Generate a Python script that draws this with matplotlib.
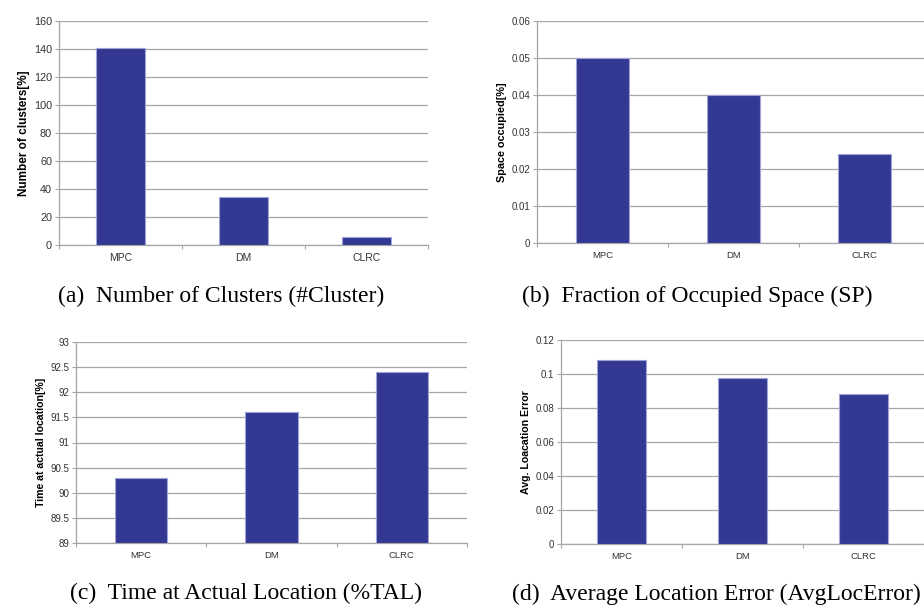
import matplotlib.pyplot as plt
from matplotlib.ticker import FixedLocator

W, H = 924, 605

methods = ['MPC', 'DM', 'CLRC']
clusters = [141, 34, 6]
space = [0.05, 0.04, 0.024]
tal = [90.3, 91.6, 92.4]
loc_err = [0.108, 0.0975, 0.088]

bar_col = '#333993'
edge_col = '#9fa3d8'
grid_col = '#a6a6a6'
txt_col = '#333333'

fig = plt.figure(figsize=(W/100, H/100), dpi=100)

def make_ax(left, right, top, bottom):
    # pixel box -> figure fractions
    return fig.add_axes([left/W, 1-bottom/H, (right-left)/W, (bottom-top)/H])

def panel(ax, vals, ylim, step, ylabel, yfs, xfs, lfs, fmt=None):
    x = range(len(methods))
    ax.bar(x, [v-ylim[0] for v in vals], bottom=ylim[0], width=0.4, color=bar_col,
           edgecolor=edge_col, linewidth=0.8, zorder=3)
    ax.set_xlim(-0.5, 2.5)
    ax.set_ylim(*ylim)
    n = int(round((ylim[1]-ylim[0])/step))
    yt = [ylim[0] + i*step for i in range(n+1)]
    ax.set_yticks(yt)
    if fmt:
        ax.set_yticklabels([fmt(v) for v in yt])
    ax.set_xticks(list(x))
    ax.set_xticklabels(methods)
    ax.xaxis.set_minor_locator(FixedLocator([-0.5, 0.5, 1.5, 2.5]))
    ax.tick_params(axis='x', which='major', length=0, pad=6, labelsize=xfs, colors=txt_col)
    ax.tick_params(axis='x', which='minor', length=3, width=0.8, color=grid_col)
    ax.tick_params(axis='y', length=3, width=0.8, color=grid_col, labelsize=yfs,
                   labelcolor=txt_col, pad=2)
    ax.grid(axis='y', color=grid_col, linewidth=0.9, zorder=0)
    for s in ['top', 'right']:
        ax.spines[s].set_visible(False)
    for s in ['left', 'bottom']:
        ax.spines[s].set_color(grid_col)
        ax.spines[s].set_linewidth(0.9)
    ax.set_ylabel(ylabel, fontweight='bold', fontsize=lfs, labelpad=3)

def g(v):
    return ('%.2f' % v).rstrip('0').rstrip('.') if v != 0 else '0'

plt.rcParams['font.family'] = ['Liberation Sans', 'DejaVu Sans']

ax1 = make_ax(59, 428, 21, 245)
panel(ax1, clusters, (0, 160), 20, 'Number of clusters[%]', 7.8, 7.5, 8.5)

ax2 = make_ax(537, 930, 21, 243)
panel(ax2, space, (0, 0.06), 0.01, 'Space occupied[%]', 7, 6.8, 7.8, g)

ax3 = make_ax(76, 467, 342, 543)
panel(ax3, tal, (89, 93), 0.5, 'Time at actual location[%]', 7, 6.8, 7.6, g)

ax4 = make_ax(561, 924, 340, 544)
panel(ax4, loc_err, (0, 0.12), 0.02, 'Avg. Loacation Error', 7, 6.8, 7.6, g)

cap = dict(family=['Liberation Serif', 'DejaVu Serif'], fontsize=17, ha='center', va='center')
fig.text(221/W, 1-296/H, '(a)  Number of Clusters (#Cluster)', **cap)
fig.text(697/W, 1-296/H, '(b)  Fraction of Occupied Space (SP)', **cap)
fig.text(246/W, 1-593/H, '(c)  Time at Actual Location (%TAL)', **cap)
fig.text(716/W, 1-594/H, '(d)  Average Location Error (AvgLocError)', **cap)

fig.savefig('out.png', dpi=100)
